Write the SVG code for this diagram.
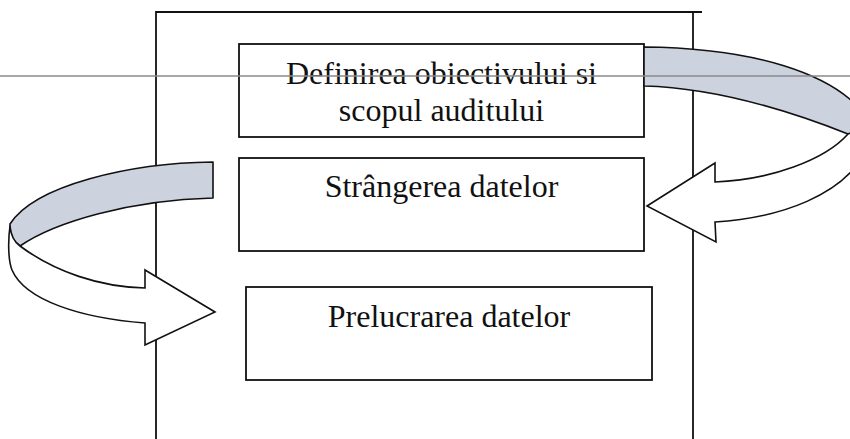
<svg xmlns="http://www.w3.org/2000/svg" width="850" height="439" viewBox="0 0 850 439">
<style>
.box{fill:#ffffff;stroke:#111;stroke-width:1.8}
.frame{fill:none;stroke:#111;stroke-width:1.8}
.lbl{font-family:"Liberation Serif","Times New Roman",serif;font-size:32px;fill:#111;text-anchor:middle}
.band{fill:#cdd3de;stroke:#111;stroke-width:1.6;stroke-linejoin:round}
.arrow{fill:#ffffff;stroke:#111;stroke-width:1.6;stroke-linejoin:miter}
.rule{stroke:#8a8a8a;stroke-width:1.5}
</style>
<rect width="850" height="439" fill="#ffffff"/>
<g id="frame">
<path class="frame" d="M156,439 L156,12 L702,12 M693,12 L693,439"/>
</g>
<g id="node-definirea">
<rect class="box" x="239" y="44" width="405" height="93"/>
<text class="lbl" x="441.5" y="84">Definirea obiectivului si</text>
<text class="lbl" x="441.5" y="120.5">scopul auditului</text>
</g>
<g id="node-strangerea">
<rect class="box" x="239" y="158" width="405" height="93"/>
<text class="lbl" x="441.5" y="197">Strângerea datelor</text>
</g>
<g id="node-prelucrarea">
<rect class="box" x="246" y="287" width="406" height="93"/>
<text class="lbl" x="449" y="327">Prelucrarea datelor</text>
</g>
<g id="connectors">
<g id="arrow-right">
<path class="band" d="M644,47 C745,48 840,70 872,125 L848,134 C800,115 720,88 644,86 Z"/>
<path class="arrow" d="M848,134 C825,160 770,180 715,182 L715,163 L647,206 L716,242 L715,222 C780,218 845,195 866,150 L872,125 Z"/>
</g>
<g id="arrow-left">
<path class="band" d="M213,162 C130,163 35,185 10,224 C9,234 13,241 20,246 C55,222 130,200 213,198 Z"/>
<path class="arrow" d="M20,246 C55,272 100,287 145,288 L145,270 L215,312 L145,345 L145,323 C80,318 25,300 12,270 C8,260 8,240 10,226 C11,236 14,242 20,246 Z"/>
</g>
</g>
<line class="rule" x1="0" y1="76" x2="850" y2="76"/>
</svg>
